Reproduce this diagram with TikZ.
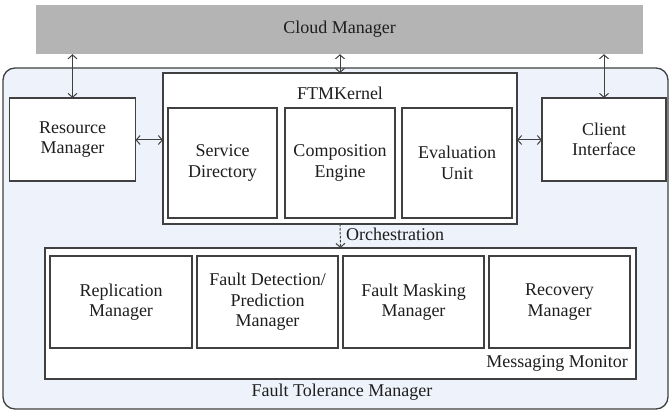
\documentclass[tikz,border=0pt]{standalone}
\usepackage{fontspec}
\setmainfont{Liberation Serif}
\usetikzlibrary{arrows.meta}
\definecolor{cloudgray}{HTML}{B4B4B4}
\definecolor{ftmfill}{HTML}{EEF2FA}
\definecolor{edge}{HTML}{404040}
\definecolor{ink}{HTML}{1E1E1E}
\tikzset{
  box/.style={draw=edge, line width=1.4pt, fill=white, inner sep=0pt, outer sep=0pt,
              align=center, text=ink},
  lbl/.style={inner sep=0pt, text=ink},
  link/.style={draw=edge, line width=1pt,
               {Straight Barb[length=4pt,width=9pt]}-{Straight Barb[length=4pt,width=9pt]}},
  orch/.style={draw=edge, line width=1pt, dashed, dash pattern=on 2.5pt off 1.5pt,
               -{Straight Barb[length=4pt,width=9pt]}}
}
\begin{document}
\begin{tikzpicture}[x=1pt, y=-1pt, font=\fontsize{18}{20.5}\selectfont]
\useasboundingbox (0,0) rectangle (669,414);
% cloud manager band
\node[fill=cloudgray, inner sep=0pt, minimum width=607pt, minimum height=49pt, text=ink]
  (cloud) at (339.5,29.5) {Cloud Manager};
% fault tolerance manager container
\node[draw=edge, line width=1.3pt, fill=ftmfill, rounded corners=12pt, inner sep=0pt,
      minimum width=665pt, minimum height=341pt] (ftm) at (335.5,238.5) {};
\node[lbl] (ftmlabel) at (342,392.5) {Fault Tolerance Manager};
% side components
\node[box, minimum width=126pt, minimum height=83pt] (rm) at (72.5,139.5) {Resource\\Manager};
\node[box, minimum width=124pt, minimum height=83pt] (ci) at (604,139.5) {Client\\Interface};
% kernel and its units
\node[box, minimum width=354pt, minimum height=151pt] (kernel) at (340,148.5) {};
\node[lbl] (kernellabel) at (340,93) {FTMKernel};
\node[box, minimum width=109pt, minimum height=110pt] (sd) at (222.5,163) {Service\\Directory};
\node[box, minimum width=110pt, minimum height=110pt] (ce) at (340,163) {Composition\\Engine};
\node[box, minimum width=110pt, minimum height=110pt] (eu) at (457,163) {Evaluation\\Unit};
% messaging monitor and managers
\node[box, minimum width=591pt, minimum height=131pt] (mm) at (340.5,313.5) {};
\node[lbl, anchor=east] (mmlabel) at (628,363) {Messaging Monitor};
\node[box, minimum width=142pt, minimum height=92pt] (rep) at (121,302) {Replication\\Manager};
\node[box, minimum width=141pt, minimum height=92pt] (fd) at (267.5,302) {Fault Detection/\\Prediction\\Manager};
\node[box, minimum width=141pt, minimum height=92pt] (fmk) at (413.5,302) {Fault Masking\\Manager};
\node[box, minimum width=141pt, minimum height=92pt] (rec) at (559.5,302) {Recovery\\Manager};
\node[lbl, anchor=west] (orchlabel) at (346,234) {Orchestration};
% connectors
\draw[link] (rm.north |- cloud.south) -- (rm.north);
\draw[link] (cloud.south -| kernel.north) -- (kernel.north);
\draw[link] (ci.north |- cloud.south) -- (ci.north);
\draw[link] (rm.east) ++(0,0.5) coordinate (rmE) (rmE) -- (rmE -| kernel.west);
\draw[link] (ci.west) ++(0,0.5) coordinate (ciW) (ciW) -- (ciW -| kernel.east);
\draw[orch] (kernel.south) -- (mm.north);
\end{tikzpicture}
\end{document}
